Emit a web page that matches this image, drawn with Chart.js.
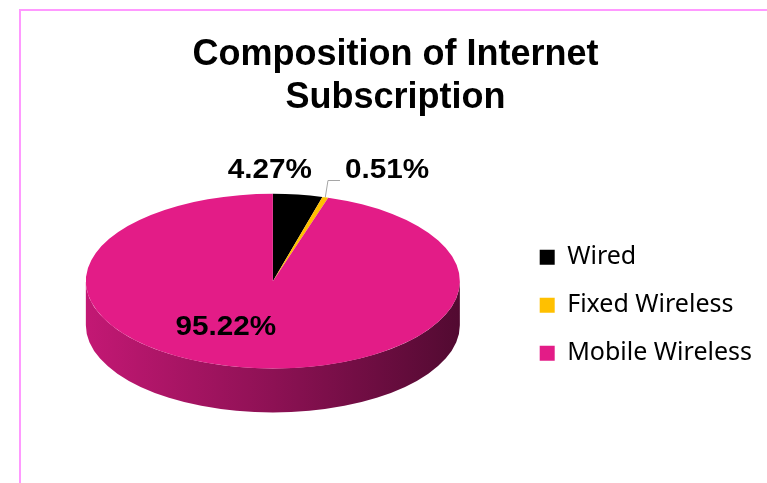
<!DOCTYPE html>
<html>
<head>
<meta charset="utf-8">
<script src="https://cdn.jsdelivr.net/npm/chart.js@4.4.1/dist/chart.umd.min.js"></script>
<style>
  html, body { margin: 0; padding: 0; background: #fff; overflow: hidden; }
  #wrap { position: relative; width: 767px; height: 483px; }
  #frame { position: absolute; left: 19px; top: 9px; width: 800px; height: 500px;
           border-left: 2px solid #ff99ff; border-top: 2px solid #ff99ff; }
  canvas { position: absolute; left: 0; top: 0; }
</style>
</head>
<body>
<div id="wrap">
  <div id="frame"></div>
  <canvas id="pie" width="767" height="483"></canvas>
</div>
<script>
const categories = ['Wired', 'Fixed Wireless', 'Mobile Wireless'];
const shares = [4.27, 0.51, 95.22];
const sliceColors = ['#000000', '#ffc000', '#e31c87'];

// where each percentage label sits: f = fraction of the radius along the
// slice's middle angle, dx = sideways nudge, leader = draw a connector line
const labelSpots = [
  { f: 1.28, dx: -35 },
  { f: 1.32, dx: 45, leader: true },
  { f: 0.535, dx: -32 }
];

function shade(hex, k) {
  const n = parseInt(hex.slice(1), 16);
  const r = Math.round(((n >> 16) & 255) * k);
  const g = Math.round(((n >> 8) & 255) * k);
  const b = Math.round((n & 255) * k);
  return `rgb(${r},${g},${b})`;
}

const total = shares.reduce((a, b) => a + b, 0);

// squashes the flat pie into an ellipse and adds a shaded rim below it
const tiltPie = {
  id: 'tiltPie',
  beforeDatasetsDraw(chart, args, opts) {
    const arcs = chart.getDatasetMeta(0).data;
    const ctx = chart.ctx;
    ctx.save();
    if (!arcs.length) return;
    const { x, y, outerRadius } = arcs[0];
    const ry = outerRadius * opts.ratio;
    const ey = y - opts.lift;

    arcs.forEach((arc) => {
      [-2 * Math.PI, 0, 2 * Math.PI].forEach((off) => {
        const a = Math.max(arc.startAngle, off);
        const b = Math.min(arc.endAngle, off + Math.PI);
        if (b <= a) return;
        const base = arc.options.backgroundColor;
        const grad = ctx.createLinearGradient(x - outerRadius, 0, x + outerRadius, 0);
        grad.addColorStop(0, shade(base, 0.86));
        grad.addColorStop(0.5, shade(base, 0.62));
        grad.addColorStop(1, shade(base, 0.36));
        ctx.beginPath();
        ctx.ellipse(x, ey, outerRadius, ry, 0, a - off, b - off);
        ctx.ellipse(x, ey + opts.depth, outerRadius, ry, 0, b - off, a - off, true);
        ctx.closePath();
        ctx.fillStyle = grad;
        ctx.fill();
      });
    });

    ctx.translate(x, ey);
    ctx.scale(1, opts.ratio);
    ctx.translate(-x, -y);
  },
  afterDatasetsDraw(chart, args, opts) {
    const ctx = chart.ctx;
    ctx.restore();
    const arcs = chart.getDatasetMeta(0).data;
    if (!arcs.length) return;
    const { x, y, outerRadius } = arcs[0];
    const ry = outerRadius * opts.ratio;
    const ey = y - opts.lift;

    ctx.save();
    ctx.font = 'bold 27px "Liberation Sans"';
    ctx.textAlign = 'center';
    ctx.textBaseline = 'middle';
    ctx.fillStyle = '#000';
    arcs.forEach((arc, i) => {
      const spot = labelSpots[i];
      const mid = (arc.startAngle + arc.endAngle) / 2;
      const px = x + outerRadius * spot.f * Math.cos(mid) + spot.dx;
      const py = ey + ry * spot.f * Math.sin(mid);
      const text = (shares[i] / total * 100).toFixed(2) + '%';
      const w = ctx.measureText(text).width * 1.1;

      if (spot.leader) {
        const ex = x + outerRadius * Math.cos(mid);
        const eyy = ey + ry * Math.sin(mid);
        const left = px - w / 2;
        ctx.beginPath();
        ctx.moveTo(ex, eyy);
        ctx.lineTo(left - 17, py + 10);
        ctx.lineTo(left - 5, py + 10);
        ctx.strokeStyle = '#a6a6a6';
        ctx.lineWidth = 1;
        ctx.stroke();
      }

      ctx.save();
      ctx.translate(px, py);
      ctx.scale(1.1, 1);
      ctx.fillText(text, 0, 0);
      ctx.restore();
    });
    ctx.restore();
  }
};

Chart.defaults.font.family = 'Liberation Sans';

new Chart(document.getElementById('pie'), {
  type: 'pie',
  data: {
    labels: categories,
    datasets: [{
      data: shares,
      backgroundColor: sliceColors,
      borderWidth: 0,
      radius: 187
    }]
  },
  options: {
    responsive: false,
    animation: false,
    events: [],
    layout: { padding: { left: 29, right: 5, top: 0, bottom: 0 } },
    plugins: {
      tooltip: { enabled: false },
      title: {
        display: true,
        text: ['Composition of Internet', 'Subscription'],
        color: '#000',
        font: { size: 36, weight: 'bold', lineHeight: 1.2 },
        padding: { top: 33.4, bottom: 7.5 }
      },
      legend: {
        position: 'right',
        fullSize: false,
        labels: {
          color: '#000',
          font: { size: 25, family: 'Noto Sans' },
          boxWidth: 15,
          boxHeight: 15,
          padding: 23
        }
      },
      tiltPie: { ratio: 0.467, depth: 44, lift: 24 }
    }
  },
  plugins: [tiltPie]
});
</script>
</body>
</html>
